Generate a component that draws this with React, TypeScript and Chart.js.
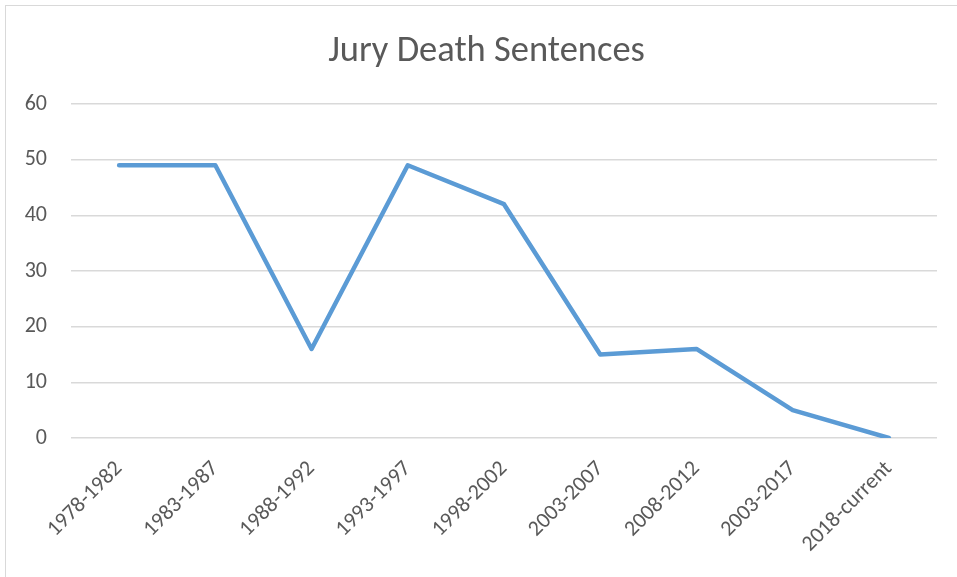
import React, { useEffect, useRef } from "react";
import { Chart, registerables } from "chart.js";

Chart.register(...registerables);

const categories = [
  "1978-1982",
  "1983-1987",
  "1988-1992",
  "1993-1997",
  "1998-2002",
  "2003-2007",
  "2008-2012",
  "2003-2017",
  "2018-current",
];
const sentences = [49, 49, 16, 49, 42, 15, 16, 5, 0];
const yTicks = [0, 10, 20, 30, 40, 50, 60];
const titleText = "Jury Death Sentences";

const FONT = "Carlito, Lato, 'Open Sans', sans-serif";

// centre the title over the plot area (as the original does) rather than the whole canvas
const titleCenterPlugin = {
  id: "titleCenter",
  afterLayout(chart: any) {
    const tb = chart.titleBlock;
    if (tb) {
      tb.left = chart.chartArea.left - 35;
      tb.right = chart.chartArea.right;
    }
  },
};

export default function App() {
  const ref = useRef<HTMLCanvasElement | null>(null);
  useEffect(() => {
    if (!ref.current) return;
    const chart = new Chart(ref.current, {
      type: "line",
      data: {
        labels: categories,
        datasets: [
          {
            label: "Jury Death Sentences",
            data: sentences,
            borderColor: "#5B9BD5",
            backgroundColor: "#5B9BD5",
            borderWidth: 4.5,
            borderCapStyle: "round",
            borderJoinStyle: "round",
            pointRadius: 0,
            tension: 0,
            fill: false,
          },
        ],
      },
      plugins: [titleCenterPlugin],
      options: {
        animation: false,
        responsive: false,
        maintainAspectRatio: false,
        layout: { padding: { left: 0, right: 20, top: 0, bottom: 0 } },
        plugins: {
          legend: { display: false },
          tooltip: { enabled: false },
          title: {
            display: true,
            text: titleText,
            color: "#595959",
            font: { family: FONT, size: 36.5, weight: 300 },
            padding: { top: 30, bottom: 30.2 },
          },
        },
        scales: {
          x: {
            type: "category",
            offset: true,
            grid: { display: false, drawTicks: false },
            border: { display: false },
            ticks: {
              color: "#595959",
              font: { family: FONT, size: 22 },
              minRotation: 45,
              maxRotation: 45,
              padding: 18,
              autoSkip: false,
            },
            afterFit: (scale: any) => {
              scale.height = 139;
            },
          },
          y: {
            min: 0,
            max: 60,
            afterBuildTicks: (scale: any) => {
              scale.ticks = yTicks.map((v) => ({ value: v }));
            },
            grid: { color: "#D9D9D9", lineWidth: 1.5, drawTicks: false },
            border: { display: false },
            ticks: {
              color: "#595959",
              font: { family: FONT, size: 22 },
              padding: 24,
            },
            afterFit: (scale: any) => {
              scale.width = 71;
            },
          },
        },
      },
    });
    return () => chart.destroy();
  }, []);
  return (
    <div style={{ position: "fixed", left: 0, top: 0, width: 957, height: 577, background: "#fff" }}>
      <div
        style={{
          position: "absolute",
          left: 5,
          top: 5,
          width: 980,
          height: 600,
          border: "1.5px solid #D9D9D9",
          boxSizing: "border-box",
        }}
      />
      <canvas ref={ref} width={957} height={577} style={{ position: "absolute", left: 0, top: 0 }} />
    </div>
  );
}
